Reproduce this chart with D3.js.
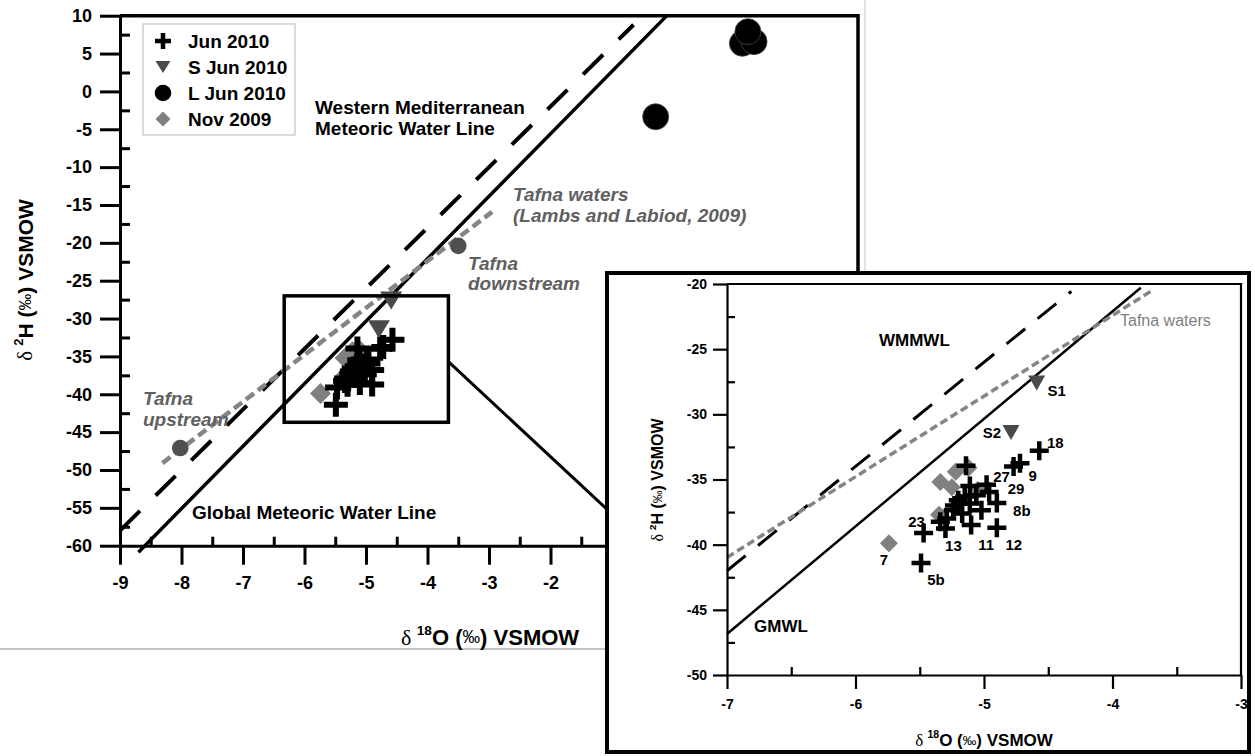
<!DOCTYPE html>
<html>
<head>
<meta charset="utf-8">
<script src="https://cdn.jsdelivr.net/npm/d3@7"></script>
<style>
  body { margin: 0; background: #fff; }
  svg { display: block; }
</style>
</head>
<body>
<script>
// ---------- data ----------
// June 2010 river / spring samples (crosses)
const jun2010O18 = [-4.57, -4.77, -4.72, -5.14, -4.98, -5.11, -4.96, -4.90, -5.06, -5.20, -5.11, -5.02, -5.24, -5.29, -5.17, -5.34, -5.47, -5.30, -5.10, -4.90, -5.49, -5.15, -5.23];
const jun2010H2  = [-32.8, -34.0, -33.75, -33.95, -35.4, -35.5, -35.95, -36.8, -36.2, -36.6, -36.85, -37.35, -37.35, -38.0, -37.6, -38.25, -39.1, -38.75, -38.5, -38.7, -41.4, -36.3, -37.0];
const jun2010Ids = ["18", "9", "", "", "27", "", "29", "8b", "", "", "", "", "", "", "", "", "23", "13", "11", "12", "5b", "", ""];

// June 2010 springs S1, S2 (triangles)
const sJunO18 = [-4.59, -4.79];
const sJunH2  = [-27.6, -31.4];
const sJunIds = ["S1", "S2"];

// June 2010 lake / reservoir samples (large circles)
const lJunO18 = [1.12, 1.31, 1.21, -0.29];
const lJunH2  = [6.35, 6.57, 7.89, -3.34];

// November 2009 samples (diamonds)
const nov09O18 = [-5.34, -5.22, -5.12, -5.25, -5.35, -5.74, -5.05];
const nov09H2  = [-35.2, -34.4, -34.1, -35.6, -37.7, -39.9, -35.8];
const nov09Ids = ["", "", "", "", "", "7", ""];

// Tafna upstream / downstream reference sites
const tafnaSiteO18 = [-8.02, -3.5];
const tafnaSiteH2  = [-47.1, -20.4];

// Water lines: slope, intercept, drawn extent (main plot / inset)
const lineNames      = ["GMWL", "WMMWL", "Tafna"];
const lineSlopes     = [8.25, 8.0, 6.19];
const lineIntercepts = [10.9, 14.0, 2.35];
const lineMainFrom   = [-8.70, -9.0, -8.31];
const lineMainTo     = [-0.10, -0.65, -2.95];
const lineInsetFrom  = [-7.0, -7.0, -7.0];
const lineInsetTo    = [-3.78, -4.32, -3.68];

// Zoom window drawn on the main plot, and the connector towards the inset
const zoomBoxO18 = [-6.33, -3.66];
const zoomBoxH2  = [-27.0, -43.7];
const connectorO18 = [-3.66, -1.08];
const connectorH2  = [-35.7, -55.2];

// Tick labels
const mainXTicks  = [-9, -8, -7, -6, -5, -4, -3, -2, -1, 0, 1, 2, 3];
const mainYTicks  = [10, 5, 0, -5, -10, -15, -20, -25, -30, -35, -40, -45, -50, -55, -60];
const insetXTicks = [-7, -6, -5, -4, -3];
const insetYTicks = [-20, -25, -30, -35, -40, -45, -50];

// ---------- layout ----------
const W = 1255, H = 756;
const SANS = "'Liberation Sans', Arial, Helvetica, sans-serif";
const SERIF = "'Liberation Serif', 'Times New Roman', serif";
const GREY_TXT = "#606060";
const TRI_COL = "#4a4a4a";
const DIA_COL = "#808080";
const TAFNA_COL = "#858585";

const labelOffsets = {
  "18": [16, -8.5], "9": [19, 9], "27": [15, -8], "29": [27, -3], "8b": [25, 8],
  "23": [-7, -11], "13": [8, 17], "11": [15, 19], "12": [17, 17], "5b": [15, 17],
  "7": [-5, 16], "S1": [20, 7], "S2": [-19, 0]
};

const svg = d3.select("body").append("svg").attr("width", W).attr("height", H);
svg.append("rect").attr("width", W).attr("height", H).attr("fill", "#fff");

const xMain = d3.scaleLinear().domain([-9, 3]).range([120, 858]);
const yMain = d3.scaleLinear().domain([-60, 10]).range([545.7, 15.7]);
const xIn = d3.scaleLinear().domain([-7, -3]).range([727, 1241]);
const yIn = d3.scaleLinear().domain([-50, -20]).range([675, 284]);

const zip = (a, b) => a.map((v, i) => [v, b[i]]);
const jun = zip(jun2010O18, jun2010H2).map((d, i) => ({ x: d[0], y: d[1], id: jun2010Ids[i] }));
const sJun = zip(sJunO18, sJunH2).map((d, i) => ({ x: d[0], y: d[1], id: sJunIds[i] }));
const lJun = zip(lJunO18, lJunH2).map(d => ({ x: d[0], y: d[1] }));
const nov = zip(nov09O18, nov09H2).map((d, i) => ({ x: d[0], y: d[1], id: nov09Ids[i] }));
const sites = zip(tafnaSiteO18, tafnaSiteH2).map(d => ({ x: d[0], y: d[1] }));

// ---------- symbol helpers ----------
function crossPath(h) { return `M${-h},0H${h}M0,${-h}V${h}`; }
function triPath(w, h) { return `M${-w / 2},${-h / 2}L${w / 2},${-h / 2}L0,${h / 2}Z`; }
function diaPath(h) { return `M0,${-h}L${h},0L0,${h}L${-h},0Z`; }

function drawCrosses(g, data, xs, ys, h, sw) {
  g.selectAll(null).data(data).enter().append("path")
    .attr("d", crossPath(h))
    .attr("transform", d => `translate(${xs(d.x)},${ys(d.y)})`)
    .attr("stroke", "#000").attr("stroke-width", sw).attr("fill", "none");
}
function drawTris(g, data, xs, ys, w, h) {
  g.selectAll(null).data(data).enter().append("path")
    .attr("d", triPath(w, h))
    .attr("transform", d => `translate(${xs(d.x)},${ys(d.y)})`)
    .attr("fill", TRI_COL);
}
function drawDias(g, data, xs, ys, h) {
  g.selectAll(null).data(data).enter().append("path")
    .attr("d", diaPath(h))
    .attr("transform", d => `translate(${xs(d.x)},${ys(d.y)})`)
    .attr("fill", DIA_COL);
}

function drawWaterLine(g, i, from, to, xs, ys, style) {
  const pts = [from, to].map(v => [xs(v), ys(lineSlopes[i] * v + lineIntercepts[i])]);
  g.append("path").attr("d", d3.line()(pts))
    .attr("fill", "none")
    .attr("stroke", style.color)
    .attr("stroke-width", style.width)
    .attr("stroke-dasharray", style.dash || null);
}

function styleAxis(sel, sw, fs) {
  sel.select(".domain").attr("stroke-width", sw).attr("stroke", "#000");
  sel.selectAll(".tick line").attr("stroke-width", sw).attr("stroke", "#000");
  sel.selectAll(".tick text")
    .attr("font-family", SANS).attr("font-size", fs).attr("font-weight", "bold").attr("fill", "#000");
  sel.attr("font-family", null).attr("font-size", null);
}

// Axis title "δ 2H (‰) VSMOW" / "δ 18O (‰) VSMOW"
function isoTitle(g, x, y, sup, el, fs, rotate) {
  const t = g.append("text")
    .attr("transform", `translate(${x},${y})${rotate ? " rotate(-90)" : ""}`)
    .attr("text-anchor", "middle").attr("dominant-baseline", "central")
    .attr("font-family", SANS).attr("font-size", fs).attr("fill", "#000");
  t.append("tspan").attr("font-family", SERIF).text("δ ");
  t.append("tspan").attr("font-size", fs * 0.62).attr("font-weight", "bold").attr("dy", -fs * 0.33).text(sup);
  t.append("tspan").attr("font-weight", "bold").attr("dy", fs * 0.33).text(el + " (");
  t.append("tspan").attr("font-size", fs * 0.8).text("‰");
  t.append("tspan").attr("font-weight", "bold").text(") VSMOW");
}

// ================= main plot =================
const main = svg.append("g");

// figure edge lines
main.append("line").attr("x1", 0).attr("x2", 607).attr("y1", 649).attr("y2", 649)
  .attr("stroke", "#c4c4c4").attr("stroke-width", 2);
main.append("line").attr("x1", 865).attr("x2", 865).attr("y1", 0).attr("y2", 273)
  .attr("stroke", "#d8d8d8").attr("stroke-width", 1.5);

// water lines
drawWaterLine(main, 0, lineMainFrom[0], lineMainTo[0], xMain, yMain, { color: "#000", width: 3.5 });
drawWaterLine(main, 1, lineMainFrom[1], lineMainTo[1], xMain, yMain, { color: "#000", width: 4, dash: "28,22" });
drawWaterLine(main, 2, lineMainFrom[2], lineMainTo[2], xMain, yMain, { color: TAFNA_COL, width: 4.5, dash: "10,5" });

// Tafna reference sites
main.selectAll(null).data(sites).enter().append("circle")
  .attr("cx", d => xMain(d.x)).attr("cy", d => yMain(d.y)).attr("r", 8.3).attr("fill", "#505050");

// samples
drawDias(main, nov, xMain, yMain, 10.5);
drawTris(main, sJun, xMain, yMain, 22, 18);
drawCrosses(main, jun, xMain, yMain, 12, 6);
main.selectAll(null).data(lJun).enter().append("circle")
  .attr("cx", d => xMain(d.x)).attr("cy", d => yMain(d.y)).attr("r", 13)
  .attr("fill", "#000").attr("stroke", "#444").attr("stroke-width", 0.8);

// zoom window
main.append("rect")
  .attr("x", xMain(zoomBoxO18[0])).attr("y", yMain(zoomBoxH2[0]))
  .attr("width", xMain(zoomBoxO18[1]) - xMain(zoomBoxO18[0]))
  .attr("height", yMain(zoomBoxH2[1]) - yMain(zoomBoxH2[0]))
  .attr("fill", "none").attr("stroke", "#000").attr("stroke-width", 3.5);
main.append("path")
  .attr("d", d3.line()(zip(connectorO18, connectorH2).map(d => [xMain(d[0]), yMain(d[1])])))
  .attr("stroke", "#000").attr("stroke-width", 3);

// frame
main.append("path")
  .attr("d", `M${xMain(-9)},${yMain(10)}H${xMain(3)}V${yMain(-60)}`)
  .attr("fill", "none").attr("stroke", "#000").attr("stroke-width", 3.5);

// axes
const mYMinor = mainYTicks.slice(0, -1).map(v => v - 2.5);
const mXMinor = mainXTicks.slice(0, -1).map(v => v + 0.5);
main.append("g").attr("transform", `translate(${xMain(-9)},0)`)
  .call(d3.axisLeft(yMain).tickValues(mainYTicks).tickSize(20).tickPadding(8).tickSizeOuter(0).tickFormat(d => String(d)))
  .call(s => styleAxis(s, 3, 18));
main.append("g").attr("transform", `translate(${xMain(-9)},0)`)
  .call(d3.axisLeft(yMain).tickValues(mYMinor).tickSize(-10).tickSizeOuter(0).tickFormat(""))
  .call(s => { s.select(".domain").remove(); s.selectAll(".tick line").attr("stroke-width", 3); });
main.append("g").attr("transform", `translate(0,${yMain(-60)})`)
  .call(d3.axisBottom(xMain).tickValues(mainXTicks).tickSize(19).tickPadding(12).tickSizeOuter(0).tickFormat(d => String(d)))
  .call(s => styleAxis(s, 3, 18));
main.append("g").attr("transform", `translate(0,${yMain(-60)})`)
  .call(d3.axisBottom(xMain).tickValues(mXMinor).tickSize(-9).tickSizeOuter(0).tickFormat(""))
  .call(s => { s.select(".domain").remove(); s.selectAll(".tick line").attr("stroke-width", 3); });

isoTitle(main, 25, 280, "2", "H", 21, true);
isoTitle(main, 490, 637, "18", "O", 22, false);

// annotations
function textLines(g, x, y, lines, opts) {
  const t = g.append("text").attr("x", x).attr("y", y)
    .attr("font-family", SANS).attr("font-size", opts.size).attr("font-weight", "bold")
    .attr("font-style", opts.italic ? "italic" : null).attr("fill", opts.color || "#000")
    .attr("dominant-baseline", "central");
  lines.forEach((l, i) => t.append("tspan").attr("x", x).attr("dy", i === 0 ? 0 : opts.lh).text(l));
}
textLines(main, 315, 107, ["Western Mediterranean", "Meteoric Water Line"], { size: 19, lh: 21 });
textLines(main, 192, 512, ["Global Meteoric Water Line"], { size: 19 });
textLines(main, 513, 194, ["Tafna waters", "(Lambs and Labiod, 2009)"], { size: 19, lh: 21, italic: true, color: GREY_TXT });
textLines(main, 468, 263, ["Tafna", "downstream"], { size: 19, lh: 20, italic: true, color: GREY_TXT });
textLines(main, 143, 398, ["Tafna", "upstream"], { size: 19, lh: 21, italic: true, color: GREY_TXT });

// legend
const legend = main.append("g");
legend.append("rect").attr("x", 143).attr("y", 24).attr("width", 152).attr("height", 111)
  .attr("fill", "#fff").attr("stroke", "#cfcfcf").attr("stroke-width", 1.5);
const legendNames = ["Jun 2010", "S Jun 2010", "L Jun 2010", "Nov 2009"];
legendNames.forEach((name, i) => {
  const cy = 41 + i * 26;
  const gsym = legend.append("g").attr("transform", `translate(163,${cy})`);
  if (i === 0) gsym.append("path").attr("d", crossPath(8)).attr("stroke", "#000").attr("stroke-width", 4.5);
  if (i === 1) gsym.append("path").attr("d", triPath(15, 12)).attr("fill", TRI_COL);
  if (i === 2) gsym.append("circle").attr("r", 8.3).attr("fill", "#000");
  if (i === 3) gsym.append("path").attr("d", diaPath(7.5)).attr("fill", DIA_COL);
  legend.append("text").attr("x", 188).attr("y", cy).attr("dominant-baseline", "central")
    .attr("font-family", SANS).attr("font-size", 19).attr("font-weight", "bold").text(name);
});

// ================= inset =================
const inset = svg.append("g");
inset.append("rect").attr("x", 607).attr("y", 273).attr("width", 642).attr("height", 479)
  .attr("fill", "#fff").attr("stroke", "#000").attr("stroke-width", 4);

drawWaterLine(inset, 0, lineInsetFrom[0], lineInsetTo[0], xIn, yIn, { color: "#000", width: 2.5 });
drawWaterLine(inset, 1, lineInsetFrom[1], lineInsetTo[1], xIn, yIn, { color: "#000", width: 3, dash: "24,16" });
drawWaterLine(inset, 2, lineInsetFrom[2], lineInsetTo[2], xIn, yIn, { color: TAFNA_COL, width: 3.5, dash: "8,4" });

drawDias(inset, nov, xIn, yIn, 9);
drawTris(inset, sJun, xIn, yIn, 17, 15);
drawCrosses(inset, jun, xIn, yIn, 9.5, 4.5);

// frame of the inset plot
inset.append("path")
  .attr("d", `M${xIn(-7)},${yIn(-20)}H${xIn(-3)}V${yIn(-50)}`)
  .attr("fill", "none").attr("stroke", "#000").attr("stroke-width", 2.2);

const iYMinor = insetYTicks.slice(0, -1).map(v => v - 2.5);
const iXMinor = insetXTicks.slice(0, -1).map(v => v + 0.5);
inset.append("g").attr("transform", `translate(${xIn(-7)},0)`)
  .call(d3.axisLeft(yIn).tickValues(insetYTicks).tickSize(14).tickPadding(6).tickSizeOuter(0).tickFormat(d => String(d)))
  .call(s => styleAxis(s, 2.2, 14));
inset.append("g").attr("transform", `translate(${xIn(-7)},0)`)
  .call(d3.axisLeft(yIn).tickValues(iYMinor).tickSize(-8).tickSizeOuter(0).tickFormat(""))
  .call(s => { s.select(".domain").remove(); s.selectAll(".tick line").attr("stroke-width", 2.2); });
inset.append("g").attr("transform", `translate(0,${yIn(-50)})`)
  .call(d3.axisBottom(xIn).tickValues(insetXTicks).tickSize(14).tickPadding(10).tickSizeOuter(0).tickFormat(d => String(d)))
  .call(s => styleAxis(s, 2.2, 14));
inset.append("g").attr("transform", `translate(0,${yIn(-50)})`)
  .call(d3.axisBottom(xIn).tickValues(iXMinor).tickSize(-8).tickSizeOuter(0).tickFormat(""))
  .call(s => { s.select(".domain").remove(); s.selectAll(".tick line").attr("stroke-width", 2.2); });

isoTitle(inset, 657, 480, "2", "H", 16, true);
isoTitle(inset, 984, 740, "18", "O", 17, false);

// sample labels
const labelled = [...jun, ...sJun, ...nov].filter(d => d.id && labelOffsets[d.id]);
inset.selectAll(null).data(labelled).enter().append("text")
  .attr("x", d => xIn(d.x) + labelOffsets[d.id][0])
  .attr("y", d => yIn(d.y) + labelOffsets[d.id][1])
  .attr("text-anchor", "middle").attr("dominant-baseline", "central")
  .attr("font-family", SANS).attr("font-size", 15).attr("font-weight", "bold")
  .text(d => d.id);

textLines(inset, 879, 340, ["WMMWL"], { size: 17 });
textLines(inset, 754, 626, ["GMWL"], { size: 17 });
inset.append("text").attr("x", 1120).attr("y", 320).attr("dominant-baseline", "central")
  .attr("font-family", SANS).attr("font-size", 16).attr("fill", "#808080").text("Tafna waters");
</script>
</body>
</html>
